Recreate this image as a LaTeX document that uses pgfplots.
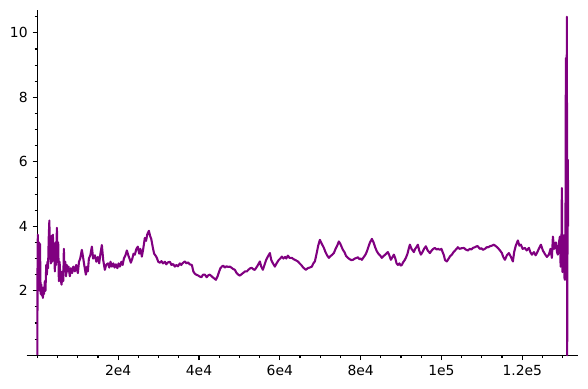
\documentclass[border=0pt]{standalone}
\usepackage{fontspec}
\setmainfont{DejaVu Sans}
\usepackage{pgfplots}
\pgfplotsset{compat=1.18}
\usepackage{pgfplotstable}
\definecolor{sagepurple}{RGB}{128,0,128}
\pgfplotstableread{
x y
0 0.0
50 3.2
120 3.74
250 2.4
400 3.5
550 2.0
650 3.45
800 1.9
950 2.2
1100 1.85
1250 2.1
1360 1.78
1500 2.0
1650 1.9
1850 2.3
2000 2.0
2200 2.8
2350 2.5
2500 2.9
2650 2.7
2800 3.6
2970 4.18
3100 3.0
3250 3.4
3340 2.85
3500 3.7
3650 2.9
3840 3.74
4000 3.0
4150 3.3
4330 2.6
4500 3.5
4650 2.8
4830 3.95
5000 3.0
5150 3.5
5320 2.3
5500 2.9
5700 2.4
5990 2.19
6200 2.6
6400 2.3
6560 3.3
6700 2.6
6900 2.9
7100 2.45
7300 2.8
7500 2.6
7700 2.75
8040 2.45
8300 2.7
8600 2.55
8900 2.75
9280 2.6
9600 2.8
10020 2.55
10300 2.9
10600 3.0
11010 3.27
11300 3.05
11600 2.8
12000 2.5
12300 2.75
12500 2.6
12750 3.0
13100 3.1
13490 3.37
13800 3.0
14230 3.1
14600 2.9
14970 3.05
15300 2.85
15600 3.15
15960 3.42
16300 2.95
16700 2.65
17000 2.8
17450 2.85
17800 2.72
18100 2.9
18440 2.75
18800 2.85
19100 2.72
19430 2.82
19800 2.7
20100 2.85
20420 2.75
20800 2.9
21100 2.8
21410 3.0
21800 3.1
22150 3.25
22500 3.1
22800 3.0
23140 2.87
23500 3.0
23800 3.15
24130 3.12
24500 3.3
24870 3.37
25200 3.15
25500 3.3
25860 3.06
26200 3.3
26600 3.64
26900 3.55
27200 3.75
27600 3.86
27900 3.7
28200 3.6
28590 3.33
28900 3.15
29200 3.1
29580 3.02
29900 2.9
30320 2.87
30700 2.92
31100 2.85
31560 2.9
31900 2.82
32300 2.88
32790 2.9
33200 2.8
33600 2.83
34030 2.75
34400 2.8
34800 2.76
35270 2.85
35600 2.8
35900 2.85
36200 2.88
36510 2.91
36900 2.85
37300 2.88
37700 2.82
38240 2.8
38600 2.6
38980 2.53
39300 2.5
39700 2.48
40220 2.44
40600 2.42
41000 2.5
41460 2.5
41900 2.42
42300 2.48
42700 2.5
43190 2.44
43600 2.4
44180 2.34
44600 2.45
45000 2.6
45300 2.7
45660 2.75
46000 2.78
46400 2.72
46800 2.76
47200 2.74
47640 2.75
48000 2.72
48400 2.68
48880 2.65
49300 2.55
49700 2.5
50120 2.47
50600 2.52
51000 2.56
51400 2.6
51850 2.6
52300 2.66
52700 2.7
53090 2.71
53500 2.66
53830 2.65
54200 2.72
54600 2.8
55070 2.91
55400 2.75
55810 2.65
56200 2.8
56600 2.95
57000 3.05
57540 3.17
57900 2.95
58300 2.85
58780 2.75
59200 2.85
59700 2.95
60110 3.0
60510 3.06
60900 3.0
61300 3.05
61600 3.0
62000 3.09
62400 3.02
62990 3.02
63400 2.98
63900 2.95
64470 2.91
64900 2.85
65300 2.8
65800 2.72
66450 2.65
66900 2.7
67400 2.72
67940 2.75
68300 2.85
68680 2.91
69100 3.15
69500 3.4
69920 3.58
70300 3.48
70910 3.33
71300 3.2
71700 3.1
72150 3.02
72600 3.08
73000 3.12
73380 3.17
73800 3.3
74200 3.4
74620 3.53
75000 3.45
75610 3.27
76000 3.2
76400 3.08
76850 3.02
77300 2.98
77700 2.95
78090 2.96
78600 3.0
79000 3.02
79320 3.04
79700 2.98
80000 3.0
80310 2.96
80800 3.05
81200 3.12
81550 3.22
81900 3.35
82290 3.49
82790 3.61
83200 3.5
83600 3.35
84030 3.22
84400 3.15
84800 3.1
85260 3.02
85700 3.08
86100 3.12
86750 3.2
87100 3.1
87490 2.96
87900 3.05
88230 3.12
88600 3.0
88900 2.85
89220 2.8
89600 2.85
89900 2.78
90210 2.8
90500 2.88
90900 2.95
91200 3.02
91600 3.15
91900 3.3
92190 3.43
92600 3.3
93180 3.2
93500 3.3
93800 3.35
94170 3.43
94500 3.25
94920 3.12
95300 3.2
95700 3.3
96150 3.38
96600 3.25
97140 3.17
97600 3.25
98000 3.3
98380 3.33
98800 3.28
99200 3.3
99620 3.27
100000 3.3
100300 3.2
100610 3.1
100900 2.95
101350 2.91
101800 3.0
102200 3.08
102590 3.12
103000 3.2
103600 3.28
104070 3.35
104500 3.3
105000 3.32
105560 3.33
106000 3.28
106550 3.25
107000 3.3
107400 3.28
107790 3.33
108300 3.35
108700 3.38
109020 3.38
109500 3.3
109900 3.32
110260 3.27
110760 3.3
111200 3.35
111600 3.35
111990 3.38
112500 3.4
112980 3.43
113500 3.38
113970 3.33
114500 3.25
114960 3.17
115300 3.05
115710 2.96
116200 3.1
116700 3.17
117200 3.05
117690 2.91
118000 3.2
118400 3.4
118920 3.56
119300 3.4
119670 3.43
120100 3.3
120660 3.33
121100 3.25
121650 3.33
122000 3.2
122390 3.12
122900 3.2
123300 3.1
123630 3.17
124100 3.3
124620 3.43
125100 3.25
125610 3.14
126100 3.05
126600 3.12
127000 3.3
127340 3.02
127590 3.68
127900 3.3
128330 3.5
128600 3.2
128820 3.12
129100 3.5
129320 3.68
129500 2.75
129700 3.3
129810 5.19
129950 2.58
130060 2.96
130200 3.2
130310 3.72
130450 2.4
130560 2.34
130700 3.8
130800 9.22
130900 3.0
131050 10.5
131120 0.0
131200 3.5
131300 6.06
131350 4.0
}\dataA
\begin{document}
\begin{tikzpicture}
\begin{axis}[
  scale only axis,
  width=397.2pt, height=248.6pt,
  xmin=-2650, xmax=133870,
  ymin=0, ymax=10.71,
  axis x line=middle, axis y line=middle,
  axis line style={-, line width=0.8pt, black},
  tick align=outside,
  major tick length=3.5pt, minor tick length=2pt,
  every tick/.style={black, line width=0.8pt},
  xtick={0,20000,40000,60000,80000,100000,120000},
  xticklabels={,2e4,4e4,6e4,8e4,1e5,1.2e5},
  minor xtick={0,5000,...,130000},
  ytick={0,2,4,6,8,10},
  yticklabels={,2,4,6,8,10},
  minor ytick={0,0.5,...,10.5},
  scaled x ticks=false,
  /pgf/number format/assume math mode=true,
  tick label style={font=\fontsize{10}{12}\selectfont, black},
  clip=false,
]
\addplot[sagepurple, line width=1.5pt, line join=round] table[x=x,y=y] {\dataA};
\end{axis}
\pgfresetboundingbox
\path ([shift={(-19.2pt,-24.3pt)}]current axis.south west) rectangle ([shift={(7pt,7.2pt)}]current axis.north east);
\end{tikzpicture}
\end{document}
